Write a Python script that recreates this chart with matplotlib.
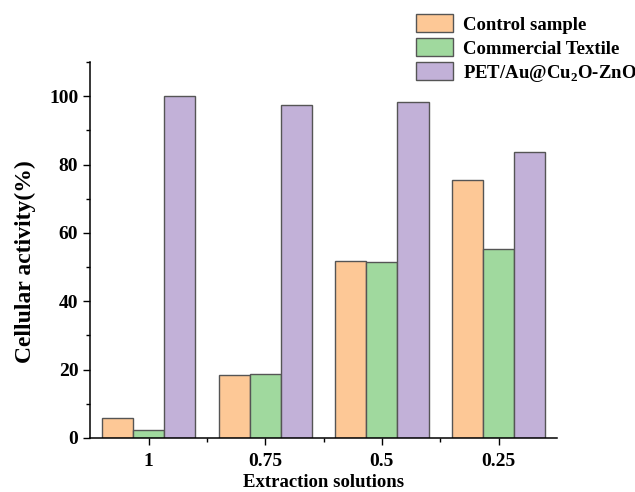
import numpy as np
from matplotlib import pyplot as plt
from matplotlib.ticker import MultipleLocator, FixedLocator

categories = ['1', '0.75', '0.5', '0.25']
control = [5.8, 18.4, 51.9, 75.4]
commercial = [2.4, 18.6, 51.6, 55.2]
pet = [100.1, 97.5, 98.3, 83.7]
series_names = ['Control sample', 'Commercial Textile', 'PET/Au@Cu$_\\mathbf{2}$O-ZnO']
colors = ['#FDC896', '#A0D99E', '#C2B1D8']

plt.rcParams['font.family'] = ['Liberation Serif', 'DejaVu Serif']
plt.rcParams['font.weight'] = 'bold'
plt.rcParams['mathtext.fontset'] = 'custom'
plt.rcParams['mathtext.bf'] = 'Liberation Serif:bold'
plt.rcParams['mathtext.rm'] = 'Liberation Serif:bold'

fig = plt.figure(figsize=(6.35, 4.92), dpi=100)
ax = fig.add_axes([0.142, 0.11, 0.735, 0.764])

x = np.arange(len(categories))
w = 0.8 / 3
for i, (vals, name, c) in enumerate(zip([control, commercial, pet], series_names, colors)):
    ax.bar(x + (i - 1) * w, vals, w, color=c, edgecolor='#555555', linewidth=1.0, label=name)

ax.set_xlim(-0.5, 3.5)
ax.set_ylim(0, 110)
ax.set_xticks(x)
ax.set_xticklabels(categories)
ax.xaxis.set_minor_locator(FixedLocator(x[:-1] + 0.5))
ax.yaxis.set_major_locator(MultipleLocator(20))
ax.yaxis.set_minor_locator(MultipleLocator(10))
ax.tick_params(axis='both', which='major', direction='out', length=5, width=1, labelsize=14)
ax.tick_params(axis='x', which='major', pad=6)
ax.tick_params(axis='both', which='minor', direction='out', length=3, width=1)
for s in ['top', 'right']:
    ax.spines[s].set_visible(False)
for s in ['left', 'bottom']:
    ax.spines[s].set_linewidth(1.1)

ax.set_ylabel('Cellular activity(%)', fontsize=17, fontweight='bold', labelpad=8)
ax.yaxis.set_label_coords(-0.117, 0.47)
ax.set_xlabel('Extraction solutions', fontsize=13.5, fontweight='bold', labelpad=3)

ax.legend(loc='upper left', bbox_to_anchor=(0.655, 0.971), bbox_transform=fig.transFigure,
          frameon=False, fontsize=13.5, handlelength=2.0, handleheight=1.1,
          handletextpad=0.5, labelspacing=0.25, borderpad=0, borderaxespad=0)

plt.savefig('out.png', dpi=100)
